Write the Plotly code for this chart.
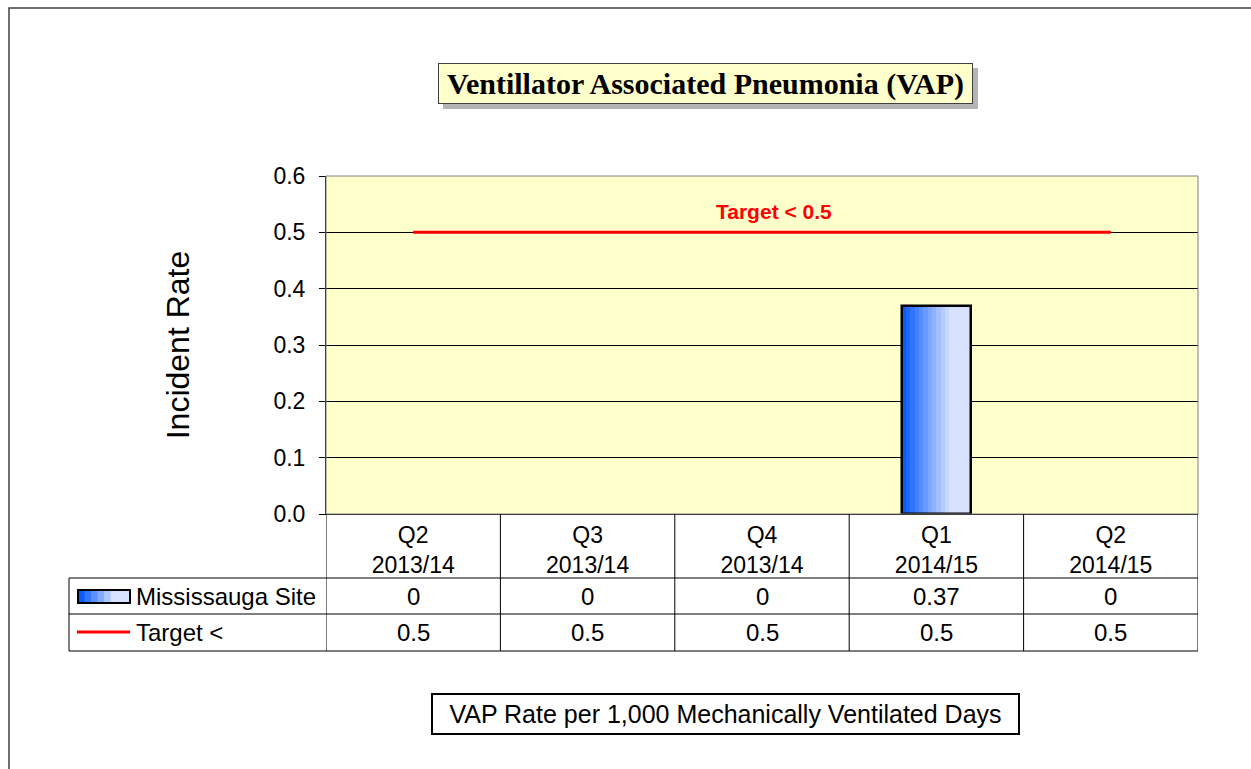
import plotly.graph_objects as go

categories = ["Q2<br>2013/14", "Q3<br>2013/14", "Q4<br>2013/14", "Q1<br>2014/15", "Q2<br>2014/15"]
site_values = [0, 0, 0, 0.37, 0]
target_values = [0.5, 0.5, 0.5, 0.5, 0.5]
series_names = ["Mississauga Site", "Target <"]
title_text = "Ventillator Associated Pneumonia (VAP)"
y_title = "Incident Rate"
note_text = "VAP Rate per 1,000 Mechanically Ventilated Days"
target_label = "Target < 0.5"

W, H = 1251, 769
L, R, T, B = 326, 1198, 176, 514
pw, ph = R - L, B - T

def px(x):
    return (x - L) / pw

def py(y):
    return (B - y) / ph

fig = go.Figure()

bar_vals = [v if v else None for v in site_values]

# gradient bar built from overlapping slices
grad_start = (10, 92, 255)
grad_end = (216, 226, 255)
n = 16
bw = 0.4

def grad_color(i, n):
    t = min(1.0, i / (n - 1) / 0.72)
    return tuple(int(grad_start[k] + (grad_end[k] - grad_start[k]) * t) for k in range(3))

for i in range(n):
    c = grad_color(i, n)
    fig.add_trace(go.Bar(
        x=categories, y=bar_vals,
        width=bw - i * bw / n, offset=-bw / 2 + i * bw / n,
        marker=dict(color="rgb(%d,%d,%d)" % c, line=dict(width=0)),
        showlegend=False, hoverinfo="skip"))
fig.add_trace(go.Bar(
    x=categories, y=bar_vals, width=bw, offset=-bw / 2,
    marker=dict(color="rgba(0,0,0,0)", line=dict(color="black", width=2.5)),
    showlegend=False, hoverinfo="skip"))

fig.add_trace(go.Scatter(
    x=categories, y=target_values, mode="lines",
    line=dict(color="#ff0000", width=3), showlegend=False, hoverinfo="skip"))

shapes = []
annotations = []

# outer frame
shapes.append(dict(type="rect", xref="paper", yref="paper",
                   x0=px(9), x1=px(1300), y0=py(8), y1=py(820),
                   line=dict(color="#404040", width=1.5), layer="below"))
# plot border
shapes.append(dict(type="rect", xref="paper", yref="paper",
                   x0=0, x1=1, y0=0, y1=1, line=dict(color="#808080", width=1)))

# data table lines
tbl_rows = [578, 614, 651]
for i in range(len(categories) + 1):
    shapes.append(dict(type="line", xref="x", yref="paper",
                       x0=i - 0.5, x1=i - 0.5, y0=0, y1=py(651),
                       line=dict(color="black", width=1)))
shapes.append(dict(type="line", xref="paper", yref="paper",
                   x0=px(69), x1=px(69), y0=py(578), y1=py(651),
                   line=dict(color="black", width=1)))
for yy in tbl_rows:
    shapes.append(dict(type="line", xref="paper", yref="paper",
                       x0=px(69), x1=1, y0=py(yy), y1=py(yy),
                       line=dict(color="black", width=1)))

# legend keys inside table (gradient swatch)
kn = 8
kx0, kx1 = 78, 130
for i in range(kn):
    c = grad_color(i, kn)
    shapes.append(dict(type="rect", xref="paper", yref="paper",
                       x0=px(kx0 + (kx1 - kx0) * i / kn), x1=px(kx1),
                       y0=py(590), y1=py(603), line=dict(width=0),
                       fillcolor="rgb(%d,%d,%d)" % c))
shapes.append(dict(type="rect", xref="paper", yref="paper",
                   x0=px(kx0), x1=px(kx1), y0=py(590), y1=py(603),
                   line=dict(color="black", width=2)))
shapes.append(dict(type="line", xref="paper", yref="paper",
                   x0=px(77), x1=px(130), y0=py(632), y1=py(632),
                   line=dict(color="#ff0000", width=3)))

row_y = [py(596), py(632)]
for name, yy in zip(series_names, row_y):
    annotations.append(dict(text=name, xref="paper", yref="paper", x=px(134), y=yy,
                            xanchor="left", yanchor="middle", showarrow=False,
                            font=dict(family="Liberation Sans", size=24, color="black")))
for vals, yy in zip([site_values, target_values], row_y):
    for c, v in zip(categories, vals):
        annotations.append(dict(text=("%g" % v), xref="x", yref="paper", x=c, y=yy,
                                xanchor="center", yanchor="middle", showarrow=False,
                                font=dict(family="Liberation Sans", size=24, color="black")))

# title with shadow
shapes.append(dict(type="rect", xref="paper", yref="paper",
                   x0=px(443), x1=px(978), y0=py(68), y1=py(109),
                   line=dict(width=0), fillcolor="#b4b4b4", layer="above"))
annotations.append(dict(text="<b>%s</b>" % title_text, xref="paper", yref="paper",
                        x=px(705.5), y=py(83.5), xanchor="center", yanchor="middle",
                        showarrow=False, width=533, height=39,
                        bgcolor="#ffffcc", bordercolor="#404040", borderwidth=1, borderpad=0,
                        font=dict(family="Liberation Serif", size=30, color="black")))

# target label
annotations.append(dict(text="<b>%s</b>" % target_label, xref="x", yref="y",
                        x=categories[2], y=0.5, yshift=21, xshift=12, showarrow=False,
                        font=dict(family="Liberation Sans", size=21, color="#ff0000")))

# bottom note
annotations.append(dict(text=note_text, xref="paper", yref="paper",
                        x=px(725.5), y=py(714), xanchor="center", yanchor="middle",
                        showarrow=False, width=585, height=38,
                        bgcolor="white", bordercolor="black", borderwidth=2, borderpad=0,
                        font=dict(family="Liberation Sans", size=25, color="black")))

fig.update_layout(
    width=W, height=H,
    margin=dict(l=L, r=W - R, t=T, b=H - B, pad=0),
    paper_bgcolor="white", plot_bgcolor="#ffffcc",
    barmode="overlay", bargap=0, showlegend=False,
    shapes=shapes, annotations=annotations,
    font=dict(family="Liberation Sans", color="black"),
    xaxis=dict(type="category", showgrid=False, ticks="", showline=True,
               linecolor="black", linewidth=1,
               tickfont=dict(family="Liberation Sans", size=23, color="black"),
               range=[-0.5, 4.5], fixedrange=True),
    yaxis=dict(range=[0, 0.6], dtick=0.1, tickformat=".1f",
               showgrid=True, gridcolor="black", gridwidth=1,
               showline=True, linecolor="black", linewidth=1,
               ticks="outside", ticklen=6, tickcolor="black",
               ticklabelstandoff=9,
               tickfont=dict(family="Liberation Sans", size=23, color="black"),
               zeroline=False, fixedrange=True,
               title=dict(text=y_title, standoff=74,
                          font=dict(family="Liberation Sans", size=32, color="black"))),
)

fig.write_html("out.html", config={"displayModeBar": False},
               post_script="document.body.style.margin='0';document.body.style.padding='0';")
